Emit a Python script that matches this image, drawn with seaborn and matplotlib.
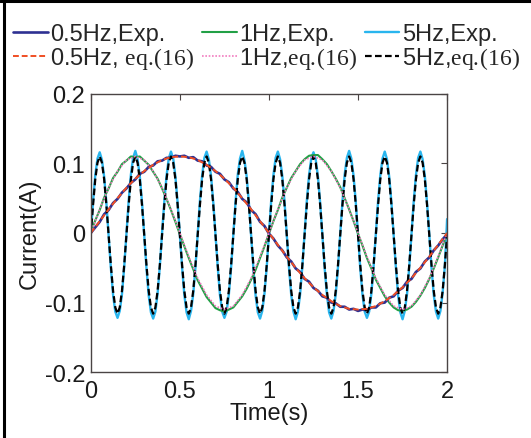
import numpy as np
import seaborn as sns
import matplotlib.pyplot as plt
from matplotlib.lines import Line2D

# time grids of the sampled traces (s)
t_5hz = np.linspace(0, 2, 161)
t_exp = np.linspace(0, 2, 81)
t_eq = np.linspace(0, 2, 41)

# 0.5 Hz, measured
i05_exp = [0.000, 0.008, 0.016, 0.027, 0.033, 0.043, 0.049, 0.058, 0.064, 0.072,
           0.077, 0.085, 0.088, 0.095, 0.097, 0.103, 0.104, 0.108, 0.108, 0.111,
           0.110, 0.111, 0.108, 0.109, 0.104, 0.103, 0.097, 0.095, 0.088, 0.085,
           0.077, 0.073, 0.064, 0.059, 0.049, 0.044, 0.033, 0.027, 0.016, 0.010,
           -0.001, -0.008, -0.018, -0.025, -0.035, -0.041, -0.051, -0.056, -0.066, -0.070,
           -0.079, -0.083, -0.091, -0.093, -0.100, -0.101, -0.106, -0.106, -0.110, -0.109,
           -0.112, -0.110, -0.111, -0.107, -0.107, -0.101, -0.100, -0.093, -0.091, -0.083,
           -0.079, -0.070, -0.066, -0.056, -0.051, -0.041, -0.035, -0.025, -0.018, -0.009,
           -0.002]
# 0.5 Hz, eq.(16)
i05_eq = [0.000, 0.017, 0.034, 0.050, 0.065, 0.078, 0.089, 0.098, 0.105, 0.109,
          0.110, 0.109, 0.105, 0.098, 0.089, 0.078, 0.065, 0.050, 0.034, 0.017,
          0.000, -0.017, -0.034, -0.050, -0.065, -0.078, -0.089, -0.098, -0.105, -0.109,
          -0.110, -0.109, -0.105, -0.098, -0.089, -0.078, -0.065, -0.050, -0.034, -0.017,
          0.000]

# 1 Hz, measured
i1_exp = [0.002, 0.018, 0.033, 0.051, 0.064, 0.079, 0.088, 0.099, 0.104, 0.110,
          0.109, 0.110, 0.104, 0.098, 0.088, 0.078, 0.064, 0.049, 0.033, 0.016,
          -0.002, -0.019, -0.036, -0.052, -0.068, -0.080, -0.092, -0.100, -0.108, -0.111,
          -0.113, -0.110, -0.107, -0.099, -0.091, -0.080, -0.067, -0.053, -0.036, -0.019,
          -0.001, 0.017, 0.033, 0.051, 0.065, 0.079, 0.089, 0.099, 0.106, 0.111,
          0.112, 0.112, 0.106, 0.099, 0.089, 0.078, 0.066, 0.050, 0.034, 0.017,
          -0.001, -0.018, -0.036, -0.051, -0.067, -0.079, -0.091, -0.100, -0.107, -0.111,
          -0.112, -0.110, -0.106, -0.099, -0.090, -0.079, -0.066, -0.051, -0.035, -0.018,
          -0.001]
# 1 Hz, eq.(16)
i1_eq = [0.000, 0.034, 0.065, 0.089, 0.105, 0.110, 0.105, 0.089, 0.065, 0.034,
         0.000, -0.034, -0.065, -0.089, -0.105, -0.110, -0.105, -0.089, -0.065, -0.034,
         0.000, 0.034, 0.065, 0.089, 0.105, 0.110, 0.105, 0.089, 0.065, 0.034,
         0.000, -0.034, -0.065, -0.089, -0.105, -0.110, -0.105, -0.089, -0.065, -0.034,
         0.000]

# 5 Hz, measured
i5_exp = [-0.001, 0.045, 0.083, 0.107, 0.116, 0.105, 0.081, 0.043, -0.003, -0.050, -0.089, -0.113, -0.122, -0.112, -0.088, -0.049,
          -0.002, 0.046, 0.084, 0.108, 0.118, 0.106, 0.082, 0.044, -0.004, -0.051, -0.090, -0.114, -0.123, -0.113, -0.087, -0.048,
          0.000, 0.045, 0.082, 0.107, 0.117, 0.107, 0.081, 0.043, -0.003, -0.050, -0.089, -0.114, -0.124, -0.112, -0.088, -0.049,
          -0.001, 0.046, 0.083, 0.108, 0.117, 0.106, 0.082, 0.044, -0.002, -0.049, -0.089, -0.113, -0.122, -0.113, -0.088, -0.050,
          -0.002, 0.045, 0.084, 0.107, 0.118, 0.105, 0.081, 0.043, -0.003, -0.051, -0.090, -0.114, -0.123, -0.112, -0.087, -0.049,
          -0.001, 0.046, 0.083, 0.108, 0.117, 0.106, 0.082, 0.045, -0.002, -0.050, -0.089, -0.113, -0.124, -0.113, -0.088, -0.048,
          0.000, 0.046, 0.083, 0.107, 0.116, 0.106, 0.081, 0.043, -0.003, -0.050, -0.088, -0.114, -0.123, -0.112, -0.088, -0.049,
          -0.001, 0.045, 0.084, 0.108, 0.118, 0.107, 0.082, 0.044, -0.002, -0.051, -0.089, -0.113, -0.122, -0.113, -0.087, -0.048,
          0.000, 0.046, 0.083, 0.107, 0.117, 0.106, 0.081, 0.044, -0.003, -0.050, -0.090, -0.114, -0.124, -0.112, -0.088, -0.049,
          -0.001, 0.045, 0.083, 0.108, 0.117, 0.106, 0.082, 0.043, -0.002, -0.050, -0.089, -0.113, -0.123, -0.112, -0.086, -0.047,
          0.020]
# 5 Hz, eq.(16)
i5_eq = [-0.003, 0.040, 0.077, 0.101, 0.110, 0.101, 0.077, 0.040, -0.003, -0.046, -0.083, -0.107, -0.116, -0.107, -0.083, -0.046,
         -0.003, 0.040, 0.077, 0.101, 0.110, 0.101, 0.077, 0.040, -0.003, -0.046, -0.083, -0.107, -0.116, -0.107, -0.083, -0.046,
         -0.003, 0.040, 0.077, 0.101, 0.110, 0.101, 0.077, 0.040, -0.003, -0.046, -0.083, -0.107, -0.116, -0.107, -0.083, -0.046,
         -0.003, 0.040, 0.077, 0.101, 0.110, 0.101, 0.077, 0.040, -0.003, -0.046, -0.083, -0.107, -0.116, -0.107, -0.083, -0.046,
         -0.003, 0.040, 0.077, 0.101, 0.110, 0.101, 0.077, 0.040, -0.003, -0.046, -0.083, -0.107, -0.116, -0.107, -0.083, -0.046,
         -0.003, 0.040, 0.077, 0.101, 0.110, 0.101, 0.077, 0.040, -0.003, -0.046, -0.083, -0.107, -0.116, -0.107, -0.083, -0.046,
         -0.003, 0.040, 0.077, 0.101, 0.110, 0.101, 0.077, 0.040, -0.003, -0.046, -0.083, -0.107, -0.116, -0.107, -0.083, -0.046,
         -0.003, 0.040, 0.077, 0.101, 0.110, 0.101, 0.077, 0.040, -0.003, -0.046, -0.083, -0.107, -0.116, -0.107, -0.083, -0.046,
         -0.003, 0.040, 0.077, 0.101, 0.110, 0.101, 0.077, 0.040, -0.003, -0.046, -0.083, -0.107, -0.116, -0.107, -0.083, -0.046,
         -0.003, 0.040, 0.077, 0.101, 0.110, 0.101, 0.077, 0.040, -0.003, -0.046, -0.083, -0.107, -0.116, -0.107, -0.083, -0.046,
         -0.003]

x_ticks = [0, 0.5, 1, 1.5, 2]
x_ticklabels = ["0", "0.5", "1", "1.5", "2"]
y_ticks = [-0.2, -0.1, 0, 0.1, 0.2]
y_ticklabels = ["-0.2", "-0.1", "0", "0.1", "0.2"]

labels = ["0.5Hz,Exp.", r"0.5Hz, $\mathrm{eq.\!(16)}$",
          "1Hz,Exp.", r"1Hz,$\mathrm{eq.\!(16)}$",
          "5Hz,Exp.", r"5Hz,$\mathrm{eq.\!(16)}$"]

sns.set_style("white")
plt.rcParams['font.family'] = ['Liberation Sans', 'DejaVu Sans']
plt.rcParams['mathtext.fontset'] = 'custom'
plt.rcParams['mathtext.rm'] = 'Liberation Serif'

FS = 17
fig = plt.figure(figsize=(5.31, 4.39), dpi=100)
ax = fig.add_axes([0.171, 0.150, 0.671, 0.634])

# measured traces underneath, model curves on top
sns.lineplot(x=t_5hz, y=i5_exp, ax=ax, color="#29B5EE", linewidth=1.7, label=labels[4])
sns.lineplot(x=t_exp, y=i1_exp, ax=ax, color="#22A046", linewidth=1.5, label=labels[2])
sns.lineplot(x=t_exp, y=i05_exp, ax=ax, color="#2E3192", linewidth=1.9, label=labels[0])
sns.lineplot(x=t_5hz, y=i5_eq, ax=ax, color="black", linewidth=1.6, linestyle=(0, (3, 1.5)), label=labels[5])
sns.lineplot(x=t_eq, y=i1_eq, ax=ax, color="#F27BC0", linewidth=1.2, linestyle=(0, (1, 1)), label=labels[3])
sns.lineplot(x=t_eq, y=i05_eq, ax=ax, color="#F04E23", linewidth=1.4, linestyle=(0, (3, 1.5)), label=labels[1])
ax.get_legend().remove()

ax.set_xlim(0, 2)
ax.set_ylim(-0.2, 0.2)
ax.set_xticks(x_ticks)
ax.set_xticklabels(x_ticklabels)
ax.set_yticks(y_ticks)
ax.set_yticklabels(y_ticklabels)
ax.tick_params(direction="in", length=4, width=0.8, color="#4a4444",
               top=True, right=True, labelsize=FS, labelcolor="#1a1a1a")
ax.tick_params(axis="x", pad=6)
ax.tick_params(axis="y", pad=4)
for s in ax.spines.values():
    s.set_color("#4a4444")
    s.set_linewidth(1.0)
ax.set_xlabel("Time(s)", fontsize=FS, color="#1a1a1a", labelpad=0)
ax.set_ylabel("Current(A)", fontsize=FS, color="#1a1a1a", labelpad=3)

handles, labs = ax.get_legend_handles_labels()
lookup = dict(zip(labs, handles))
fig.legend([lookup[l] for l in labels], labels, ncol=3, loc="upper left",
           bbox_to_anchor=(0.025, 0.945), frameon=False, fontsize=FS,
           handlelength=1.45, handletextpad=0.1, columnspacing=0.35,
           labelspacing=0.0, borderaxespad=0, borderpad=0)

# frame lines along the left and top edge of the picture
fig.add_artist(Line2D([0.008, 0.008], [0, 1], transform=fig.transFigure, color="black", linewidth=2.2))
fig.add_artist(Line2D([0, 1], [0.995, 0.995], transform=fig.transFigure, color="black", linewidth=2.2))

fig.savefig("out.png", dpi=100)
